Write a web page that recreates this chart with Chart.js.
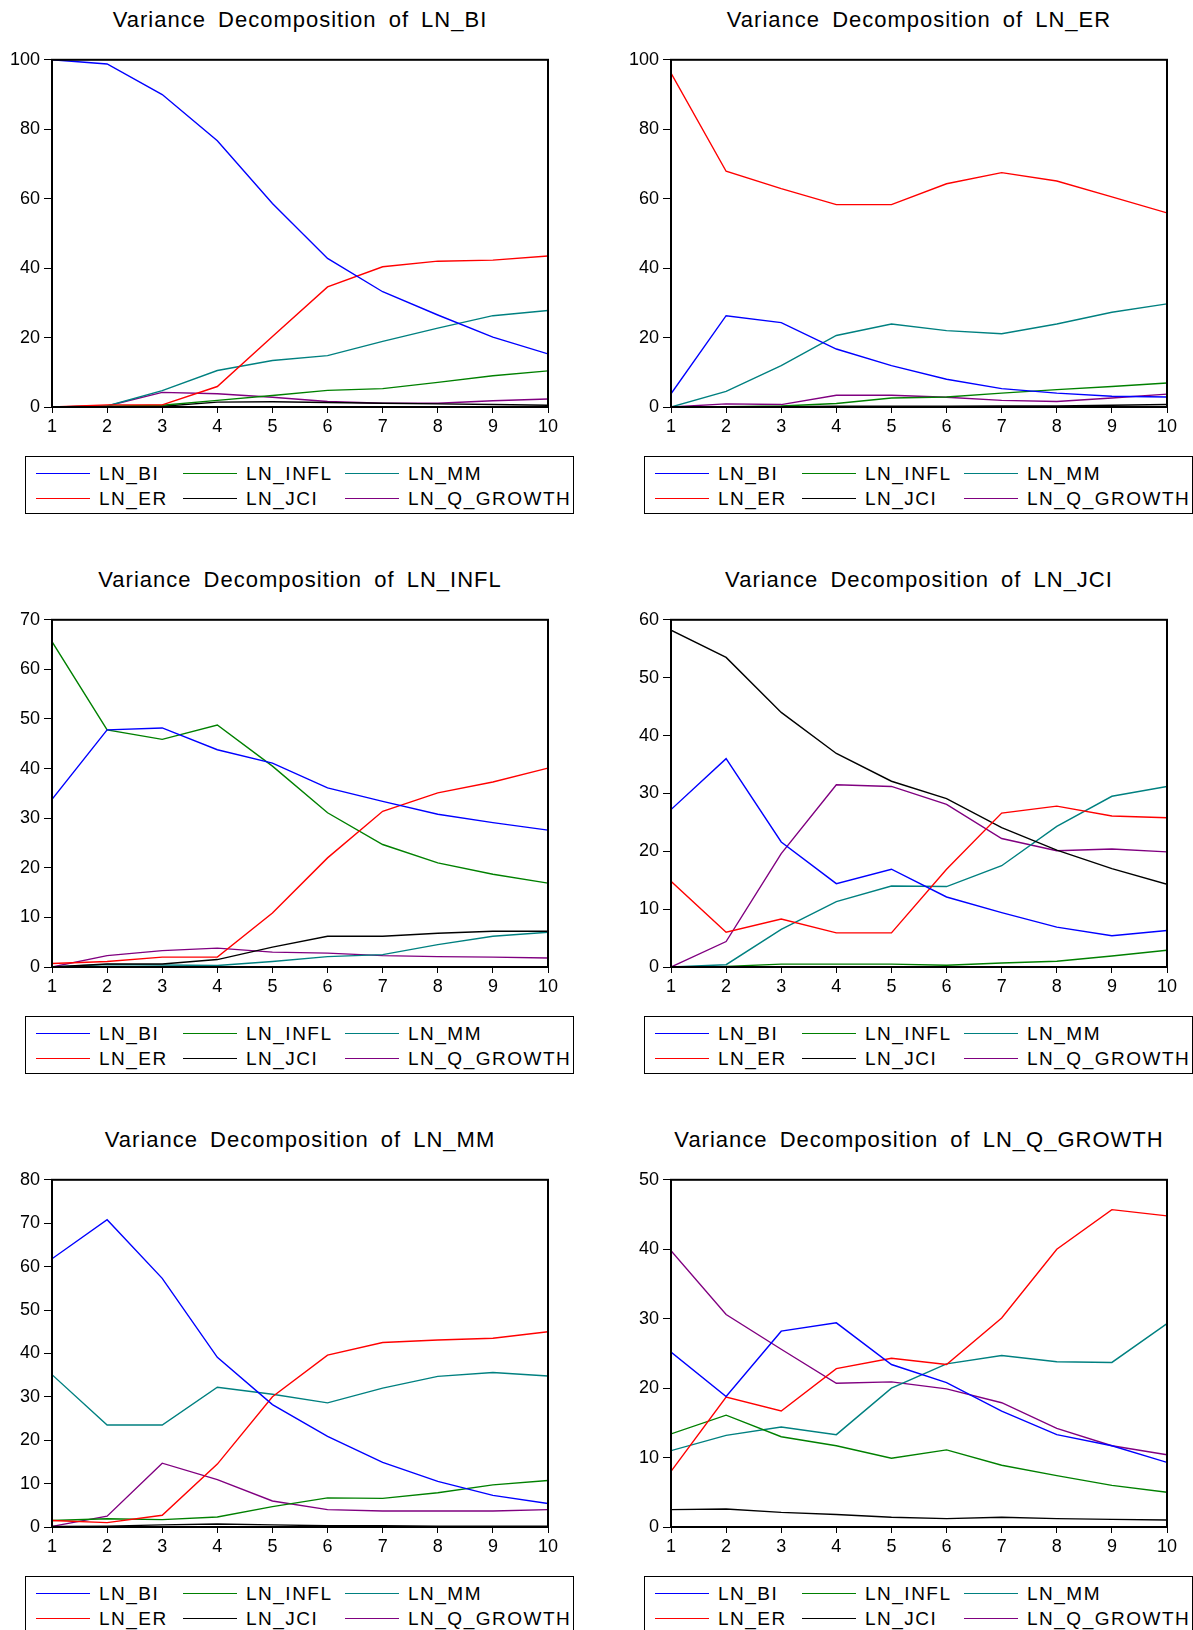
<!DOCTYPE html>
<html>
<head>
<meta charset="utf-8">
<script src="https://cdn.jsdelivr.net/npm/chart.js@4.4.1/dist/chart.umd.min.js"></script>
<style>
    html, body { margin: 0; padding: 0; background: #fff; }
    body { width: 1193px; height: 1630px; overflow: hidden; position: relative; font-family: "Liberation Sans", Arial, sans-serif; }
    .title { position: absolute; width: 496px; text-align: center; font-size: 22px; letter-spacing: 1px; word-spacing: 5px; color: #000; line-height: 26px; white-space: nowrap; }
    .legend { position: absolute; width: 549px; height: 58px; border: 1px solid #000; box-sizing: border-box; }
    .legend .ln { position: absolute; width: 54px; height: 0; border-top: 1.5px solid; }
    .legend .tx { position: absolute; font-size: 19px; letter-spacing: 1.5px; line-height: 22px; color: #000; white-space: nowrap; }
    canvas { position: absolute; }
</style>
</head>
<body>
<script>
// periods on the x axis
const periods = [1, 2, 3, 4, 5, 6, 7, 8, 9, 10];
const seriesNames = ['LN_BI', 'LN_ER', 'LN_INFL', 'LN_JCI', 'LN_MM', 'LN_Q_GROWTH'];
const seriesColors = ['#0000ff', '#ff0000', '#008000', '#000000', '#008080', '#800080'];

// one row per series, same order as seriesNames
const vdBI = [
    [100, 98.8, 90.0, 76.7, 58.6, 42.8, 33.2, 26.5, 20.1, 15.3],
    [0, 0.6, 0.6, 5.9, 20.3, 34.6, 40.4, 42.0, 42.3, 43.5],
    [0, 0.2, 0.5, 1.9, 3.3, 4.8, 5.3, 7.1, 9.0, 10.4],
    [0, 0.1, 0.2, 1.4, 1.5, 1.3, 1.1, 0.9, 0.7, 0.5],
    [0, 0.3, 4.7, 10.5, 13.4, 14.8, 18.9, 22.7, 26.3, 27.8],
    [0, 0.3, 4.2, 3.8, 2.8, 1.6, 1.1, 1.1, 1.8, 2.3]
];
const vdER = [
    [3.8, 26.3, 24.3, 16.7, 11.9, 8.0, 5.3, 4.0, 3.1, 2.9],
    [96.2, 67.9, 62.9, 58.3, 58.3, 64.3, 67.5, 65.1, 60.5, 55.9],
    [0, 0.1, 0.3, 1.0, 2.6, 2.9, 4.0, 5.0, 5.9, 6.9],
    [0, 0.1, 0.1, 0.2, 0.2, 0.2, 0.3, 0.3, 0.5, 0.7],
    [0, 4.5, 11.9, 20.6, 23.9, 22.0, 21.1, 23.9, 27.3, 29.7],
    [0, 0.9, 0.7, 3.4, 3.4, 2.8, 1.9, 1.6, 2.6, 3.7]
];
const vdINFL = [
    [33.8, 47.8, 48.2, 43.8, 41.1, 36.1, 33.4, 30.8, 29.1, 27.6],
    [0.7, 1.1, 2.0, 2.0, 10.9, 22.0, 31.4, 35.1, 37.3, 40.1],
    [65.6, 47.8, 45.9, 48.8, 40.5, 31.1, 24.7, 21.0, 18.7, 16.9],
    [0, 0.6, 0.6, 1.5, 4.0, 6.2, 6.2, 6.8, 7.2, 7.2],
    [0, 0.5, 0.4, 0.3, 1.1, 2.1, 2.5, 4.5, 6.2, 7.0],
    [0, 2.3, 3.3, 3.8, 3.0, 2.8, 2.3, 2.1, 2.0, 1.8]
];
const vdJCI = [
    [27.2, 36.0, 21.6, 14.4, 16.9, 12.1, 9.4, 6.9, 5.4, 6.3],
    [14.8, 6.0, 8.3, 5.9, 5.9, 16.9, 26.6, 27.8, 26.1, 25.8],
    [0, 0.1, 0.5, 0.5, 0.5, 0.3, 0.7, 1.0, 1.9, 2.9],
    [58.2, 53.5, 44.0, 36.9, 32.1, 29.1, 24.1, 20.2, 17.0, 14.3],
    [0, 0.4, 6.5, 11.3, 14.0, 13.9, 17.5, 24.3, 29.5, 31.2],
    [0, 4.4, 19.6, 31.5, 31.2, 28.1, 22.2, 20.1, 20.4, 19.9]
];
const vdMM = [
    [61.8, 70.8, 57.3, 39.1, 28.2, 20.9, 14.9, 10.5, 7.3, 5.4],
    [1.5, 1.0, 2.7, 14.5, 30.0, 39.6, 42.5, 43.1, 43.5, 45.0],
    [1.5, 1.9, 1.7, 2.3, 4.7, 6.7, 6.6, 7.9, 9.7, 10.7],
    [0.1, 0.2, 0.5, 0.7, 0.5, 0.3, 0.3, 0.2, 0.2, 0.2],
    [35.1, 23.5, 23.5, 32.2, 30.6, 28.6, 32.0, 34.7, 35.6, 34.8],
    [0.15, 2.5, 14.7, 10.9, 6.0, 4.0, 3.7, 3.7, 3.7, 4.0]
];
const vdQG = [
    [25.2, 18.8, 28.2, 29.4, 23.4, 20.8, 16.7, 13.3, 11.7, 9.3],
    [8.0, 18.7, 16.7, 22.8, 24.3, 23.4, 30.1, 40.0, 45.7, 44.8],
    [13.4, 16.1, 13.0, 11.7, 9.9, 11.1, 8.9, 7.4, 6.0, 5.0],
    [2.5, 2.6, 2.1, 1.8, 1.4, 1.2, 1.4, 1.2, 1.1, 1.0],
    [11.0, 13.2, 14.4, 13.3, 20.0, 23.5, 24.7, 23.8, 23.7, 29.3],
    [39.8, 30.6, 25.6, 20.7, 20.9, 19.9, 17.9, 14.2, 11.7, 10.4]
];

const panelTitles = ['LN_BI', 'LN_ER', 'LN_INFL', 'LN_JCI', 'LN_MM', 'LN_Q_GROWTH'];
const panelData = [vdBI, vdER, vdINFL, vdJCI, vdMM, vdQG];
const yMaxes = [100, 100, 70, 60, 80, 50];
const ySteps = [20, 20, 10, 10, 10, 10];

// legend layout: column-major, 3 columns x 2 rows
const legendOrder = [[0, 2, 4], [1, 3, 5]];

// plot box positions
const colLeft = [52, 671];
const rowTop = [57, 617, 1177];
const boxW = 496, boxH = 350;

const framePlugin = {
    id: 'frame',
    afterDatasetsDraw(chart) {
        const a = chart.chartArea;
        const ctx = chart.ctx;
        ctx.save();
        ctx.strokeStyle = '#000';
        ctx.lineWidth = 2;
        ctx.strokeRect(a.left, a.top, a.right - a.left, a.bottom - a.top);
        ctx.restore();
    }
};

const tickFont = { family: '"Liberation Sans", Arial, sans-serif', size: 18 };

panelData.forEach(function(rows, i) {
    const bx = colLeft[i % 2];
    const by = rowTop[Math.floor(i / 2)];

    // title
    const t = document.createElement('div');
    t.className = 'title';
    t.style.left = bx + 'px';
    t.style.top = (by - 37 - 13) + 'px';
    t.textContent = 'Variance Decomposition of ' + panelTitles[i];
    document.body.appendChild(t);

    // chart
    const canvas = document.createElement('canvas');
    canvas.width = 52 + boxW + 22;
    canvas.height = 12 + boxH + 40;
    canvas.style.left = (bx - 52) + 'px';
    canvas.style.top = (by - 12) + 'px';
    document.body.appendChild(canvas);

    new Chart(canvas.getContext('2d'), {
        type: 'line',
        data: {
            datasets: rows.map(function(vals, s) {
                return {
                    label: seriesNames[s],
                    data: periods.map(function(p, k) { return { x: p, y: vals[k] }; }),
                    borderColor: seriesColors[s],
                    borderWidth: 1.4,
                    pointRadius: 0,
                    tension: 0,
                    fill: false
                };
            })
        },
        options: {
            responsive: false,
            animation: false,
            devicePixelRatio: 1,
            layout: { padding: { top: 12, right: 22, left: 0, bottom: 0 } },
            plugins: { legend: { display: false }, title: { display: false }, tooltip: { enabled: false } },
            scales: {
                x: {
                    type: 'linear',
                    min: 1,
                    max: 10,
                    afterFit: function(scale) { scale.height = 40; },
                    ticks: { stepSize: 1, color: '#000', font: tickFont, padding: 3, maxRotation: 0 },
                    grid: { drawOnChartArea: false, drawTicks: true, tickLength: 6, color: '#000' },
                    border: { display: false }
                },
                y: {
                    min: 0,
                    max: yMaxes[i],
                    afterFit: function(scale) { scale.width = 52; },
                    ticks: { stepSize: ySteps[i], color: '#000', font: tickFont, padding: 4 },
                    grid: { drawOnChartArea: false, drawTicks: true, tickLength: 8, color: '#000' },
                    border: { display: false }
                }
            }
        },
        plugins: [framePlugin]
    });

    // legend
    const lg = document.createElement('div');
    lg.className = 'legend';
    lg.style.left = (bx - 27) + 'px';
    lg.style.top = (by + boxH + 49) + 'px';
    const lineX = [10, 157, 319];
    const textX = [73, 220, 382];
    const rowY = [17, 42];
    legendOrder.forEach(function(r, ri) {
        r.forEach(function(s, ci) {
            const ln = document.createElement('div');
            ln.className = 'ln';
            ln.style.borderTopColor = seriesColors[s];
            ln.style.left = lineX[ci] + 'px';
            ln.style.top = (rowY[ri] - 1) + 'px';
            lg.appendChild(ln);
            const tx = document.createElement('div');
            tx.className = 'tx';
            tx.style.left = textX[ci] + 'px';
            tx.style.top = (rowY[ri] - 11) + 'px';
            tx.textContent = seriesNames[s];
            lg.appendChild(tx);
        });
    });
    document.body.appendChild(lg);
});
</script>
</body>
</html>
